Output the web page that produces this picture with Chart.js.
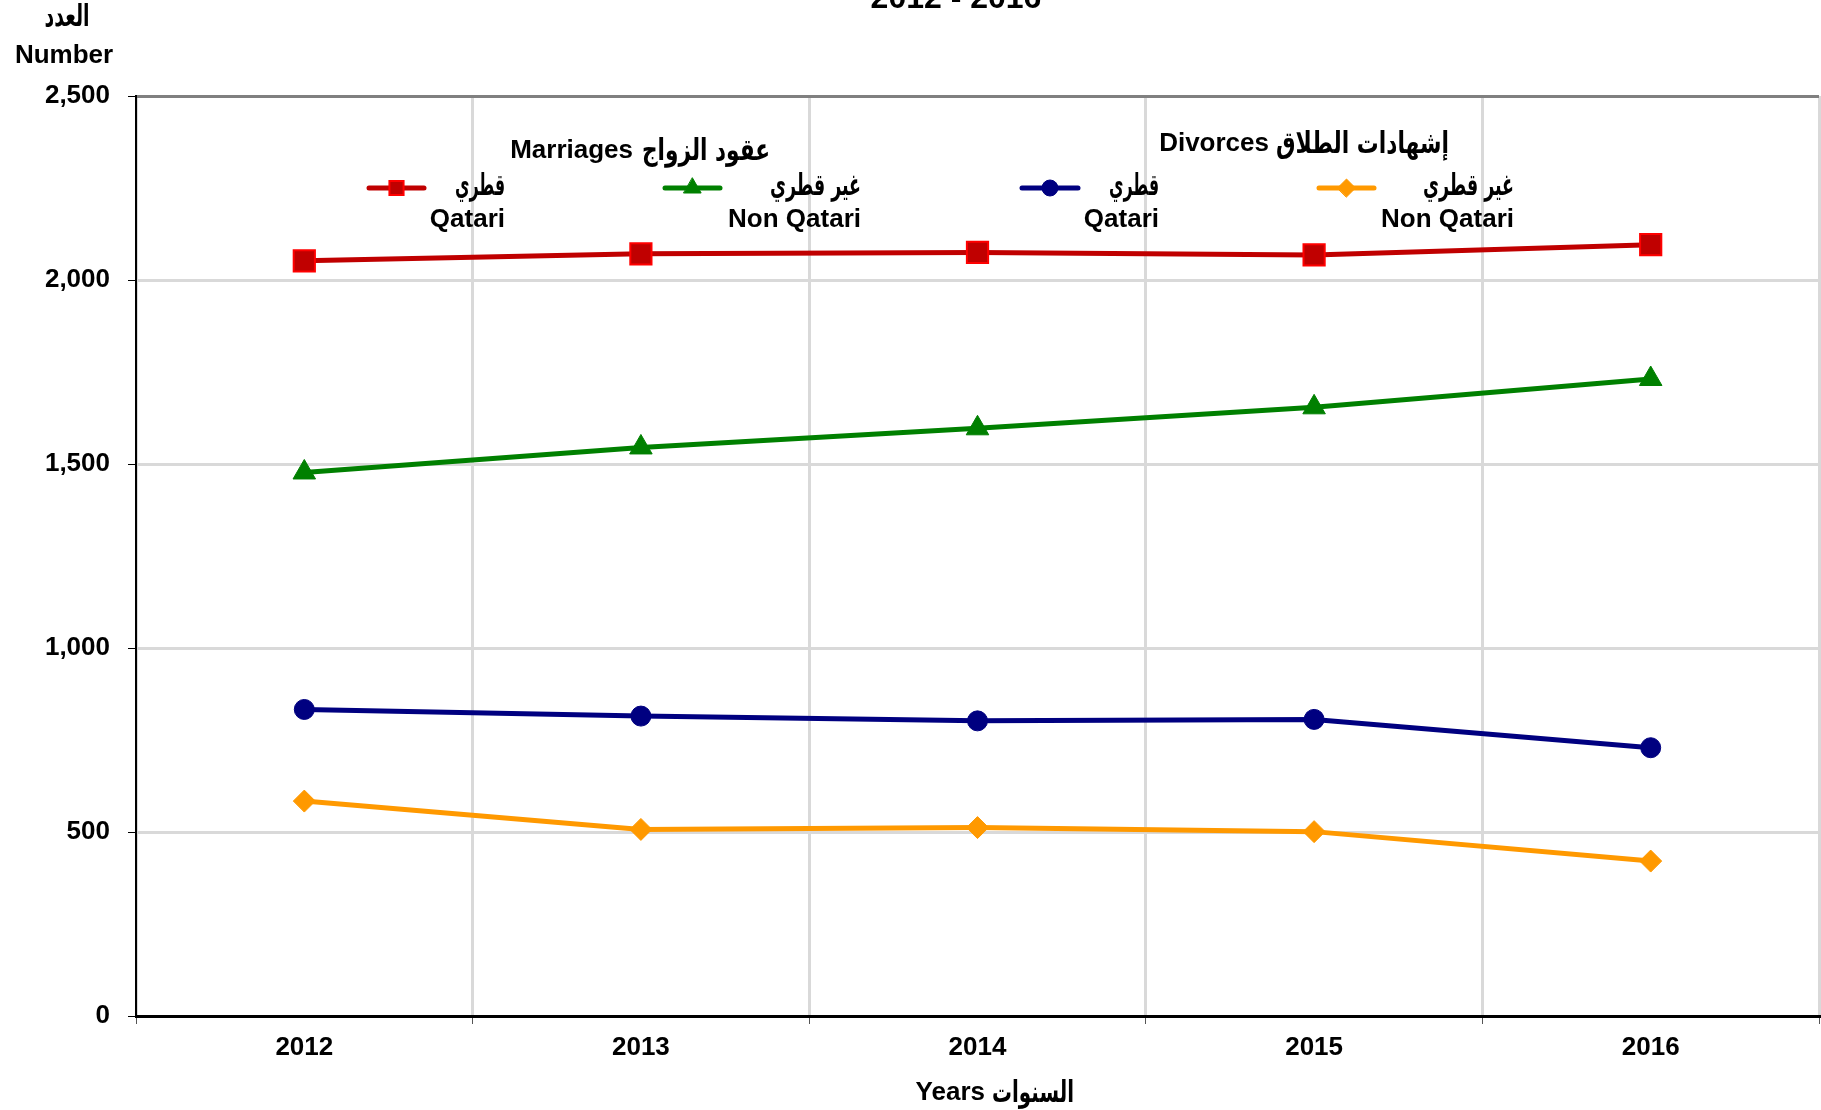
<!DOCTYPE html>
<html>
<head>
<meta charset="utf-8">
<script src="https://cdn.jsdelivr.net/npm/chart.js@4"></script>
<style>
  html, body { margin: 0; padding: 0; background: #fff; overflow: hidden; }
  canvas { display: block; }
</style>
</head>
<body>
<canvas id="chart" width="1821" height="1110"></canvas>
<script>
// years on the x axis
const years = ['2012', '2013', '2014', '2015', '2016'];

// marriage contracts
const marriagesQatari = [2052, 2071, 2075, 2068, 2096];
const marriagesNonQatari = [1477, 1545, 1597, 1654, 1731];

// divorce certificates
const divorcesQatari = [833, 815, 802, 806, 729];
const divorcesNonQatari = [584, 507, 512, 501, 421];

const yTicks = [0, 500, 1000, 1500, 2000, 2500];

const FONT = '"Liberation Sans", Arial, sans-serif';
const AR_FONT = 'bold 30px "DejaVu Sans Condensed", "DejaVu Sans", sans-serif';

// text around the plot + the two-group legend
const textPlugin = {
  id: 'textPlugin',
  afterDraw(chart) {
    const ctx = chart.ctx;
    const ds = chart.data.datasets;
    const en = 'bold 26px ' + FONT;
    ctx.save();
    ctx.fillStyle = '#000';

    // title, cut at the top edge like the original
    ctx.font = 'bold 32px ' + FONT;
    ctx.textAlign = 'center';
    ctx.textBaseline = 'alphabetic';
    ctx.fillText('2012 - 2016', 956, 8);

    // y axis label
    ctx.font = AR_FONT;
    ctx.textBaseline = 'middle';
    ctx.fillText('العدد', 67, 18, 45);
    ctx.font = en;
    ctx.fillText('Number', 64, 56);

    // english part right-aligned at gap, arabic part left of it
    function pair(eng, ar, gapL, gapR, arW, y) {
      ctx.textAlign = 'right';
      ctx.font = en;
      ctx.fillText(eng, gapL, y);
      ctx.textAlign = 'left';
      ctx.font = AR_FONT;
      ctx.fillText(ar, gapR, y + 1, arW);
    }
    pair('Years', 'السنوات', 985, 992, 82, 1093);
    pair('Marriages', 'عقود الزواج', 633, 642, 128, 151);
    pair('Divorces', 'إشهادات الطلاق', 1269, 1276, 173, 144);

    const items = [
      { i: 0, x0: 369, x1: 424, right: 505, ar: 'قطري', arW: 50, en: 'Qatari', r: 10 },
      { i: 1, x0: 665, x1: 720, right: 861, ar: 'غير قطري', arW: 91, en: 'Non Qatari', r: 10 },
      { i: 2, x0: 1022, x1: 1078, right: 1159, ar: 'قطري', arW: 50, en: 'Qatari', r: 8 },
      { i: 3, x0: 1319, x1: 1374, right: 1514, ar: 'غير قطري', arW: 91, en: 'Non Qatari', r: 9 }
    ];
    items.forEach(it => {
      const d = ds[it.i];
      ctx.strokeStyle = d.borderColor;
      ctx.lineWidth = 5;
      ctx.lineCap = 'round';
      ctx.beginPath();
      ctx.moveTo(it.x0, 188);
      ctx.lineTo(it.x1, 188);
      ctx.stroke();
      ctx.fillStyle = d.pointBackgroundColor;
      ctx.strokeStyle = d.pointBorderColor;
      ctx.lineWidth = d.pointBorderWidth;
      Chart.helpers.drawPoint(ctx, {
        pointStyle: d.pointStyle, radius: it.r, borderWidth: d.pointBorderWidth, rotation: 0
      }, (it.x0 + it.x1) / 2, 188);

      ctx.fillStyle = '#000';
      ctx.textAlign = 'right';
      ctx.font = AR_FONT;
      ctx.fillText(it.ar, it.right, 187, it.arW);
      ctx.font = en;
      ctx.fillText(it.en, it.right, 220);
    });
    ctx.restore();
  }
};

Chart.defaults.font.family = FONT;
Chart.defaults.font.size = 26;
Chart.defaults.font.weight = 'bold';
Chart.defaults.color = '#000';

new Chart(document.getElementById('chart'), {
  type: 'line',
  data: {
    labels: years,
    datasets: [
      {
        label: 'Marriages Qatari',
        data: marriagesQatari,
        borderColor: '#C00000',
        borderWidth: 5,
        pointStyle: 'rect',
        pointRadius: 15,
        pointBackgroundColor: '#C00000',
        pointBorderColor: '#FF0000',
        pointBorderWidth: 2
      },
      {
        label: 'Marriages Non Qatari',
        data: marriagesNonQatari,
        borderColor: '#008000',
        borderWidth: 5,
        pointStyle: 'triangle',
        pointRadius: 13,
        pointBackgroundColor: '#008000',
        pointBorderColor: '#008000',
        pointBorderWidth: 1
      },
      {
        label: 'Divorces Qatari',
        data: divorcesQatari,
        borderColor: '#000080',
        borderWidth: 5,
        pointStyle: 'circle',
        pointRadius: 10,
        pointBackgroundColor: '#000080',
        pointBorderColor: '#000080',
        pointBorderWidth: 1
      },
      {
        label: 'Divorces Non Qatari',
        data: divorcesNonQatari,
        borderColor: '#FF9900',
        borderWidth: 5,
        pointStyle: 'rectRot',
        pointRadius: 11,
        pointBackgroundColor: '#FF9900',
        pointBorderColor: '#FF9900',
        pointBorderWidth: 1
      }
    ]
  },
  options: {
    responsive: false,
    animation: false,
    layout: { autoPadding: false, padding: { top: 96, right: 2, left: 0, bottom: 0 } },
    plugins: {
      legend: { display: false },
      tooltip: { enabled: false }
    },
    scales: {
      x: {
        offset: true,
        grid: {
          offset: true,
          color: '#D9D9D9',
          lineWidth: 3,
          tickLength: 8,
          tickColor: '#555',
          tickWidth: 1
        },
        border: { color: '#000', width: 3 },
        ticks: { padding: 8, maxRotation: 0 },
        afterFit(scale) {
          scale.height = 94;
          scale.paddingLeft = 0;
          scale.paddingRight = 0;
        }
      },
      y: {
        min: 0,
        max: 2500,
        afterBuildTicks(scale) { scale.ticks = yTicks.map(v => ({ value: v })); },
        grid: {
          color: c => (c.tick && c.tick.value === 2500 ? '#808080' : '#D9D9D9'),
          lineWidth: 3,
          tickLength: 8,
          tickColor: '#000',
          tickWidth: 1
        },
        border: { color: '#000', width: 2 },
        ticks: {
          padding: 18,
          callback: v => v.toLocaleString('en-US')
        },
        afterFit(scale) { scale.width = 136; }
      }
    }
  },
  plugins: [textPlugin]
});
</script>
</body>
</html>
